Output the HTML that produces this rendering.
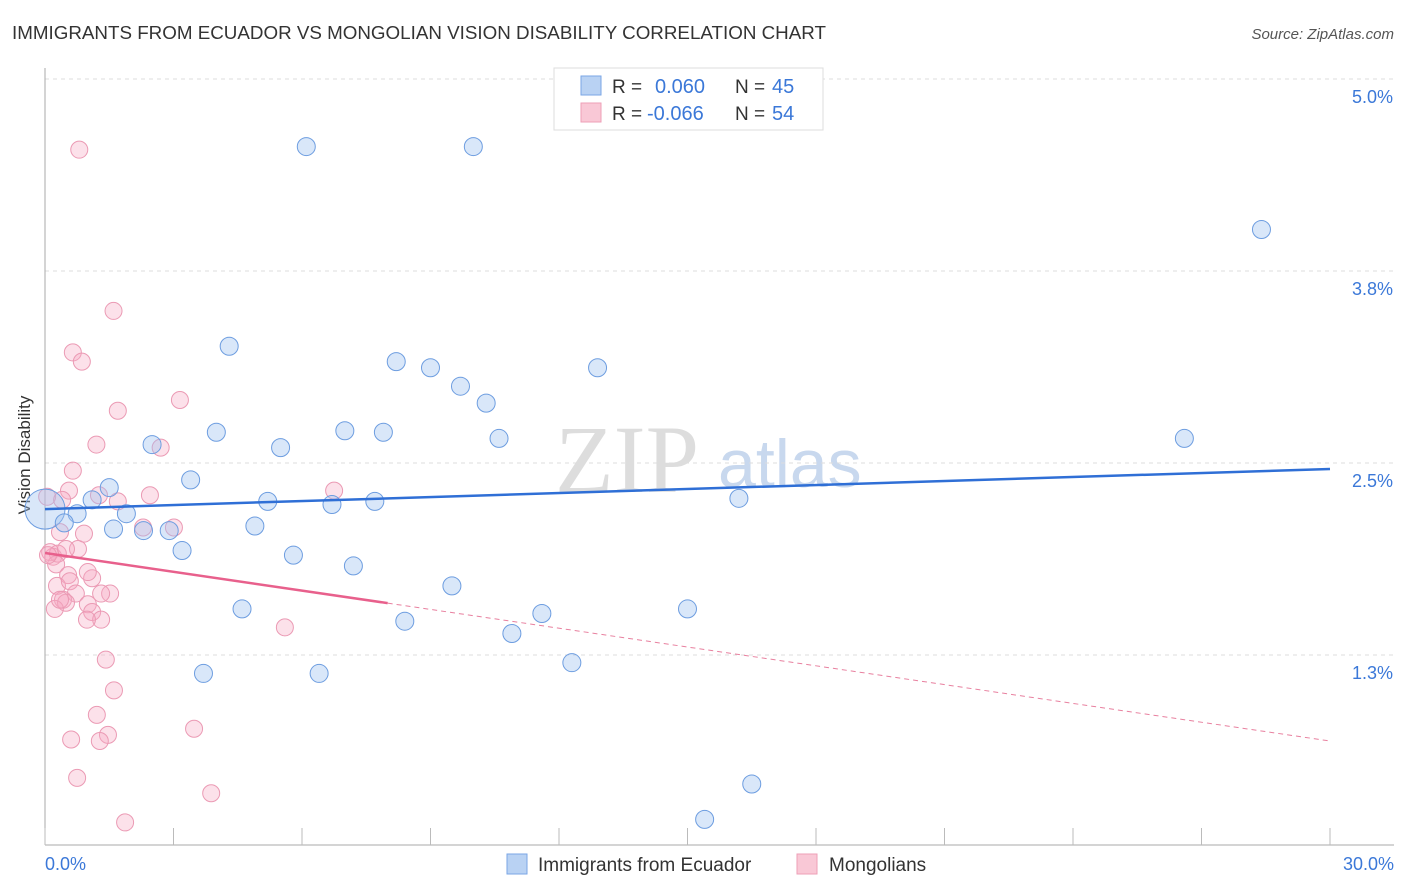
<!DOCTYPE html>
<html><head><meta charset="utf-8"><style>
body{margin:0;background:#fff;font-family:"Liberation Sans",sans-serif;}
#wrap{position:relative;width:1406px;height:892px;overflow:hidden;}
</style></head><body>
<div id="wrap">
<svg id="svg" width="1406" height="892" xmlns="http://www.w3.org/2000/svg" font-family="Liberation Sans, sans-serif">
<text x="12" y="39" font-size="18.8" fill="#333">IMMIGRANTS FROM ECUADOR VS MONGOLIAN VISION DISABILITY CORRELATION CHART</text>
<text x="1394" y="39" font-size="15" fill="#555" font-style="italic" text-anchor="end">Source: ZipAtlas.com</text>
<text x="30" y="455" font-size="17" fill="#333" text-anchor="middle" transform="rotate(-90 30 455)">Vision Disability</text>
<text x="555" y="492" font-size="96" fill="#ddd" font-family="Liberation Serif, serif">ZIP</text>
<text x="718" y="487" font-size="68" fill="#c8d8ee">atlas</text>
<g id="grid"></g><g id="pts"></g><g id="lines"></g>
<g>
<rect x="554" y="68" width="269" height="62" fill="#fff" stroke="#ddd"/>
<rect x="581" y="76" width="20" height="19" fill="#b9d2f3" stroke="#7aa6e6"/>
<rect x="581" y="103" width="20" height="19" fill="#f9c8d6" stroke="#ee9fb7"/>
<text x="612" y="93" font-size="19" fill="#333">R =</text>
<text x="655" y="93" font-size="20" fill="#3b78d8">0.060</text>
<text x="735" y="93" font-size="19" fill="#333">N =</text>
<text x="772" y="93" font-size="20" fill="#3b78d8">45</text>
<text x="612" y="120" font-size="19" fill="#333">R =</text>
<text x="647" y="120" font-size="20" fill="#3b78d8">-0.066</text>
<text x="735" y="120" font-size="19" fill="#333">N =</text>
<text x="772" y="120" font-size="20" fill="#3b78d8">54</text>
</g>
<g>
<rect x="507" y="854" width="20" height="20" fill="#b9d2f3" stroke="#7aa6e6"/>
<text x="538" y="871" font-size="19" fill="#333">Immigrants from Ecuador</text>
<rect x="797" y="854" width="20" height="20" fill="#f9c8d6" stroke="#ee9fb7"/>
<text x="829" y="871" font-size="19" fill="#333">Mongolians</text>
</g>
</svg></div>
<script>
const yTicks=[5.0,3.75,2.5,1.25];
const yTickLabels=["5.0%","3.8%","2.5%","1.3%"];
const xTickLabels=["0.0%","30.0%"];
const blueX=[6.1,10.0,28.4,4.3,8.2,9.0,12.9,9.7,10.3,2.5,4.0,5.5,7.0,7.9,10.6,26.6,3.4,1.5,1.1,5.2,6.7,7.7,16.2,1.9,0.75,0,0.45,1.6,2.3,2.9,4.9,3.2,5.8,7.2,9.5,4.6,11.6,15.0,8.4,10.9,12.3,3.7,6.4,16.5,15.4];
const blueY=[4.56,4.56,4.02,3.26,3.16,3.12,3.12,3.00,2.89,2.62,2.70,2.60,2.71,2.70,2.66,2.66,2.39,2.34,2.26,2.25,2.23,2.25,2.27,2.17,2.17,2.20,2.11,2.07,2.06,2.06,2.09,1.93,1.90,1.83,1.70,1.55,1.52,1.55,1.47,1.39,1.20,1.13,1.13,0.41,0.18];
const pinkX=[0.8,1.6,0.65,0.86,1.7,3.15,1.2,2.7,0.65,0.56,1.26,1.7,2.45,6.75,0.05,0.4,0.35,0.91,2.29,3.01,0.77,0.12,0.19,0.3,0.26,0.54,1.1,1.0,0.28,0.58,1.52,0.72,1.31,0.42,0.49,1.0,1.1,0.23,1.31,0.98,5.6,1.42,1.61,1.21,3.48,0.61,1.47,1.28,0.75,3.88,1.87,0.49,0.07,0.35];
const pinkY=[4.54,3.49,3.22,3.16,2.84,2.91,2.62,2.60,2.45,2.32,2.29,2.25,2.29,2.32,2.28,2.26,2.05,2.04,2.08,2.08,1.94,1.92,1.89,1.91,1.84,1.77,1.75,1.79,1.70,1.73,1.65,1.65,1.65,1.61,1.59,1.58,1.53,1.55,1.48,1.48,1.43,1.22,1.02,0.86,0.77,0.70,0.73,0.69,0.45,0.35,0.16,1.94,1.90,1.61];
const blueTrend=[2.200,2.461];
const pinkTrend=[1.914,0.690];
const pinkSolidEnd=8.0;
const X0=45,X1=1330,YB=847,PPU=153.6;
const sx=v=>X0+(X1-X0)*v/30;
const sy=v=>YB-v*PPU;
const NS="http://www.w3.org/2000/svg";
function mk(tag,attrs,parent){const e=document.createElementNS(NS,tag);for(const k in attrs)e.setAttribute(k,attrs[k]);parent.appendChild(e);return e;}
const grid=document.getElementById('grid');
yTicks.forEach((t,i)=>{
 const l=mk('line',{x1:45,x2:1394,y1:sy(t),y2:sy(t),stroke:'#ddd','stroke-dasharray':'4,4'},grid);
 
 
 const tx=mk('text',{x:1393,y:sy(t)+24,'font-size':18,fill:'#3b78d8','text-anchor':'end'},grid);
 tx.textContent=yTickLabels[i];
 
 
});
const ax=mk('line',{x1:45,x2:45,y1:68,y2:845,stroke:'#aaa'},grid);


const bx=mk('line',{x1:45,x2:1394,y1:845,y2:845,stroke:'#aaa'},grid);


for(let v=0;v<=30;v+=3){
 const t=mk('line',{x1:sx(v),x2:sx(v),y1:828,y2:845,stroke:'#bbb'},grid);
 
 
}
[[0,xTickLabels[0],'start',45],[30,xTickLabels[1],'end',1394]].forEach(a=>{
 const tx=mk('text',{x:a[3],y:870,'font-size':18,fill:'#3b78d8','text-anchor':a[2]},grid);
 tx.textContent=a[1];
 
 
});
const pts=document.getElementById('pts');
pinkX.forEach((x,i)=>{
 const c=mk('circle',{cx:sx(x),cy:sy(pinkY[i]),r:8.5,fill:'rgba(246,170,195,0.35)',stroke:'#eb9ab4','stroke-width':1},pts);
 
 
});
blueX.forEach((x,i)=>{
 const big=(x===0);
 const c=mk('circle',{cx:sx(x),cy:sy(blueY[i]),r:big?20:9,fill:'rgba(160,195,240,0.4)',stroke:'#6d9de0','stroke-width':1},pts);
 
 
});
const lines=document.getElementById('lines');
const bl=mk('line',{x1:sx(0),y1:sy(blueTrend[0]),x2:sx(30),y2:sy(blueTrend[1]),stroke:'#2f6fd6','stroke-width':2.5},lines);


const pAt=v=>pinkTrend[0]+(pinkTrend[1]-pinkTrend[0])*v/30;
const pl=mk('line',{x1:sx(0),y1:sy(pinkTrend[0]),x2:sx(pinkSolidEnd),y2:sy(pAt(pinkSolidEnd)),stroke:'#e8608c','stroke-width':2.5},lines);


const pd=mk('line',{x1:sx(pinkSolidEnd),y1:sy(pAt(pinkSolidEnd)),x2:sx(30),y2:sy(pinkTrend[1]),stroke:'#e8809f','stroke-width':1,'stroke-dasharray':'5,4'},lines);


</script>
</body></html>
